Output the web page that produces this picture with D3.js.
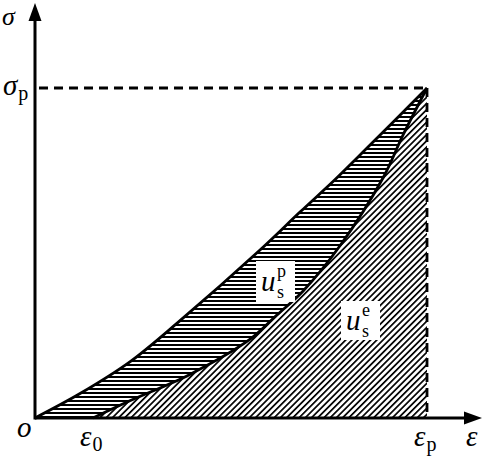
<!DOCTYPE html>
<html><head><meta charset="utf-8">
<script src="https://cdn.jsdelivr.net/npm/d3@7"></script>
<style>html,body{margin:0;padding:0;background:#fff;}svg{display:block;}</style>
</head><body>
<svg id="chart" width="484" height="460"></svg>
<script>
// Loading curve (upper) — strain (ε/εp) and stress (σ/σp)
const upperStrain = [0, 0.115, 0.242, 0.370, 0.574, 0.676, 0.765, 0.847, 1.0];
const upperStress = [0, 0.074, 0.170, 0.295, 0.509, 0.624, 0.722, 0.818, 1.0];
// Elastic curve (lower), starting at ε0
const lowerStrain = [0.148, 0.242, 0.395, 0.548, 0.617, 0.684, 0.778, 0.888, 0.939, 1.0];
const lowerStress = [0, 0.052, 0.132, 0.238, 0.312, 0.385, 0.522, 0.728, 0.858, 1.0];
const eps0 = 0.148, epsP = 1.0, sigP = 1.0;

const svg = d3.select("#chart");
const x = d3.scaleLinear().domain([0, 1]).range([35, 427]);
const y = d3.scaleLinear().domain([0, 1]).range([418, 88]);
const xMax = x.invert(482), yMax = y.invert(3);

const upper = upperStrain.map((e, i) => [e, upperStress[i]]);
const lower = lowerStrain.map((e, i) => [e, lowerStress[i]]);

const defs = svg.append("defs");
const ph = defs.append("pattern").attr("id", "hor").attr("patternUnits", "userSpaceOnUse")
  .attr("width", 8).attr("height", 4);
ph.append("rect").attr("width", 8).attr("height", 4).attr("fill", "#fff");
ph.append("rect").attr("y", 0).attr("width", 8).attr("height", 2).attr("fill", "#000");
const pd = defs.append("pattern").attr("id", "diag").attr("patternUnits", "userSpaceOnUse")
  .attr("width", 4.4).attr("height", 10).attr("patternTransform", "rotate(45)");
pd.append("rect").attr("width", 4.4).attr("height", 10).attr("fill", "#fff");
pd.append("rect").attr("width", 1.7).attr("height", 10).attr("fill", "#000");

const curve = d3.curveCatmullRom.alpha(0.5);
const area = d3.area().x(d => x(d[0])).y0(y(0)).y1(d => y(d[1])).curve(curve);
const line = d3.line().x(d => x(d[0])).y(d => y(d[1])).curve(curve);

svg.append("path").attr("d", area(upper)).attr("fill", "url(#hor)");
svg.append("path").attr("d", area(lower)).attr("fill", "url(#diag)");

// dashed guides
svg.append("line").attr("x1", x(0) + 4).attr("x2", x(epsP)).attr("y1", y(sigP)).attr("y2", y(sigP))
  .attr("stroke", "#000").attr("stroke-width", 2.8).attr("stroke-dasharray", "9,6");
svg.append("line").attr("x1", x(epsP)).attr("x2", x(epsP)).attr("y1", y(sigP)).attr("y2", y(0))
  .attr("stroke", "#000").attr("stroke-width", 2.8).attr("stroke-dasharray", "9,6");

svg.append("path").attr("d", line(upper)).attr("fill", "none").attr("stroke", "#000").attr("stroke-width", 2.8);
svg.append("path").attr("d", line(lower)).attr("fill", "none").attr("stroke", "#000").attr("stroke-width", 2.8);

// axes
svg.append("line").attr("x1", x(0)).attr("x2", x(xMax) - 10).attr("y1", y(0)).attr("y2", y(0))
  .attr("stroke", "#000").attr("stroke-width", 3);
svg.append("line").attr("x1", x(0)).attr("x2", x(0)).attr("y1", y(0) + 1.5).attr("y2", y(yMax) + 10)
  .attr("stroke", "#000").attr("stroke-width", 3);
const ax = x(xMax), ay = y(0);
svg.append("path").attr("d", `M${ax},${ay} L${ax - 18},${ay - 6.5} L${ax - 18},${ay + 6.5} Z`).attr("fill", "#000");
const bx = x(0), by = y(yMax);
svg.append("path").attr("d", `M${bx},${by} L${bx - 6.5},${by + 18} L${bx + 6.5},${by + 18} Z`).attr("fill", "#000");

// labels
const serif = "'Liberation Serif', 'DejaVu Serif', serif";
function txt(tx, ty, s, size, italic) {
  return svg.append("text").attr("x", tx).attr("y", ty).attr("font-family", serif)
    .attr("font-size", size).attr("font-style", italic ? "italic" : "normal").text(s);
}
function lab(tx, ty, main, sub, size) {
  size = size || 29;
  const t = svg.append("text").attr("x", tx).attr("y", ty).attr("font-family", serif).attr("font-size", size);
  t.append("tspan").attr("font-style", "italic").text(main);
  if (sub) t.append("tspan").attr("font-size", 20).attr("dy", 5).attr("dx", 1).text(sub);
  return t;
}
lab(2, 25, "σ", null, 26);
lab(3, 95, "σ", "p");
lab(17, 437, "o");
lab(80, 446, "ε", "0");
lab(414, 446, "ε", "p");
lab(466, 446, "ε");

svg.append("rect").attr("x", 256).attr("y", 261).attr("width", 39).attr("height", 41).attr("fill", "#fff");
svg.append("rect").attr("x", 341).attr("y", 301).attr("width", 39).attr("height", 39).attr("fill", "#fff");
// u_s^p
txt(261, 291, "u", 29, true);
txt(277, 277, "p", 18, false);
txt(277, 298, "s", 18, false);
// u_s^e
txt(346, 330, "u", 29, true);
txt(362, 316, "e", 18, false);
txt(362, 337, "s", 18, false);
</script>
</body></html>
